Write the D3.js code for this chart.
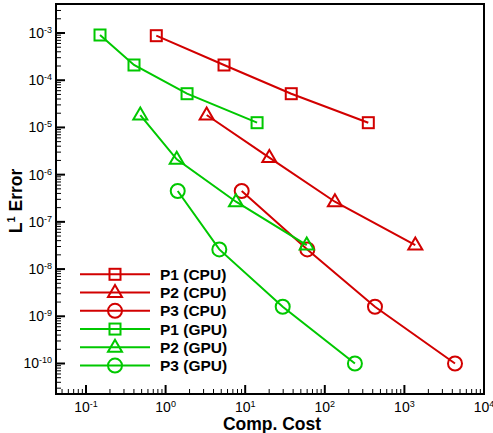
<!DOCTYPE html>
<html><head><meta charset="utf-8">
<script src="https://cdn.jsdelivr.net/npm/d3@7"></script>
<style>body{margin:0;background:#fff}svg{display:block}text{font-family:"Liberation Sans",Arial,sans-serif}</style>
</head><body><svg id="c" width="493" height="433"></svg>
<script>
const seriesNames = ["P1 (CPU)","P2 (CPU)","P3 (CPU)","P1 (GPU)","P2 (GPU)","P3 (GPU)"];
const p1cpuX = [0.764, 5.42, 37.9, 352];
const p1cpuY = [8.77e-4, 2.10e-4, 5.18e-5, 1.26e-5];
const p2cpuX = [3.28, 20.1, 134, 1371];
const p2cpuY = [1.83e-5, 2.30e-6, 2.67e-7, 3.22e-8];
const p3cpuX = [9.04, 60.3, 427, 4323];
const p3cpuY = [4.50e-7, 2.61e-8, 1.59e-9, 1.00e-10];
const p1gpuX = [0.150, 0.401, 1.86, 14.1];
const p1gpuY = [9.07e-4, 2.10e-4, 5.18e-5, 1.26e-5];
const p2gpuX = [0.481, 1.38, 7.66, 59.3];
const p2gpuY = [1.83e-5, 2.11e-6, 2.67e-7, 3.22e-8];
const p3gpuX = [1.42, 4.73, 29.6, 239];
const p3gpuY = [4.50e-7, 2.61e-8, 1.59e-9, 1.00e-10];
const xTickExps = [-1,0,1,2,3,4];
const yTickExps = [-3,-4,-5,-6,-7,-8,-9,-10];

const RED = "#d20000", GREEN = "#00c800";
const series = [
  {name:seriesNames[0], xs:p1cpuX, ys:p1cpuY, color:RED, sym:"square"},
  {name:seriesNames[1], xs:p2cpuX, ys:p2cpuY, color:RED, sym:"triangle"},
  {name:seriesNames[2], xs:p3cpuX, ys:p3cpuY, color:RED, sym:"circle"},
  {name:seriesNames[3], xs:p1gpuX, ys:p1gpuY, color:GREEN, sym:"square"},
  {name:seriesNames[4], xs:p2gpuX, ys:p2gpuY, color:GREEN, sym:"triangle"},
  {name:seriesNames[5], xs:p3gpuX, ys:p3gpuY, color:GREEN, sym:"circle"}
];

const L = 56, R = 484, T = 4, B = 394;
const x = d3.scaleLog().domain([Math.pow(10,-1 - 30/79.6), 1e4]).range([L, R]);
const y = d3.scaleLog().domain([Math.pow(10,-10 - 30.5/47.21), Math.pow(10,-3 + 29/47.21)]).range([B, T]);

const svg = d3.select("#c");

function minorVals(scale){
  const [a,b] = scale.domain();
  const lo = Math.min(a,b), hi = Math.max(a,b);
  const out = [];
  for (let e = Math.floor(Math.log10(lo)); e <= Math.ceil(Math.log10(hi)); e++) {
    for (let m = 1; m <= 9; m++) {
      const v = m*Math.pow(10,e);
      if (v >= lo*0.999 && v <= hi*1.001) out.push({v, major:m===1});
    }
  }
  return out;
}
const gT = svg.append("g");
minorVals(x).forEach(t => {
  const px = x(t.v);
  if (px < L+1 || px > R-1) return;
  gT.append("line").attr("x1",px).attr("x2",px).attr("y1",B).attr("y2",B-(t.major?9:5))
    .attr("stroke","#000").attr("stroke-width",t.major?2:1);
});
minorVals(y).forEach(t => {
  const py = y(t.v);
  if (py < T+1 || py > B-1) return;
  gT.append("line").attr("x1",L).attr("x2",L+(t.major?9:5)).attr("y1",py).attr("y2",py)
    .attr("stroke","#000").attr("stroke-width",t.major?2:1);
});

svg.append("rect").attr("x",L).attr("y",T).attr("width",R-L).attr("height",B-T)
  .attr("fill","none").attr("stroke","#000").attr("stroke-width",2);

xTickExps.forEach(e => {
  const t = svg.append("text").attr("x", x(Math.pow(10,e))).attr("y", 411.5)
    .attr("text-anchor","middle").attr("font-size",14).attr("fill","#000");
  t.append("tspan").text("10");
  t.append("tspan").attr("dy",-5).attr("font-size",9).text(String(e));
});
yTickExps.forEach(e => {
  const t = svg.append("text").attr("x", 52).attr("y", y(Math.pow(10,e))+5)
    .attr("text-anchor","end").attr("font-size",14).attr("fill","#000");
  t.append("tspan").text("10");
  t.append("tspan").attr("dy",-5).attr("font-size",9).text(String(e));
});

svg.append("text").attr("x",272).attr("y",430).attr("text-anchor","middle")
  .attr("font-size",17.5).attr("font-weight","bold").text("Comp. Cost");
const yt = svg.append("text").attr("transform","translate(22,201) rotate(-90)")
  .attr("text-anchor","middle").attr("font-size",17.5).attr("font-weight","bold");
yt.append("tspan").text("L");
yt.append("tspan").attr("dy",-7).attr("font-size",11).text("1");
yt.append("tspan").attr("dy",7).text(" Error");

function marker(g, sym, cx, cy, color){
  if (sym === "square") {
    g.append("rect").attr("x",cx-5.5).attr("y",cy-5.5).attr("width",11).attr("height",11)
      .attr("fill","none").attr("stroke",color).attr("stroke-width",2);
  } else if (sym === "triangle") {
    g.append("path").attr("d",`M${cx},${cy-7.5}L${cx+7},${cy+4.5}L${cx-7},${cy+4.5}Z`)
      .attr("fill","none").attr("stroke",color).attr("stroke-width",2);
  } else {
    g.append("circle").attr("cx",cx).attr("cy",cy).attr("r",7)
      .attr("fill","none").attr("stroke",color).attr("stroke-width",2);
  }
}

const line = d3.line().x(d => x(d[0])).y(d => y(d[1]));
series.forEach(s => {
  const pts = s.xs.map((v,i) => [v, s.ys[i]]);
  const g = svg.append("g");
  g.append("path").attr("d", line(pts)).attr("fill","none").attr("stroke",s.color).attr("stroke-width",2);
  pts.forEach(p => marker(g, s.sym, x(p[0]), y(p[1]), s.color));
});

const legY0 = 274.3, legDy = 18.25;
series.forEach((s,i) => {
  const yy = legY0 + i*legDy;
  const g = svg.append("g");
  g.append("line").attr("x1",80).attr("x2",150).attr("y1",yy).attr("y2",yy).attr("stroke",s.color).attr("stroke-width",2);
  marker(g, s.sym, 115, yy, s.color);
  g.append("text").attr("x",160).attr("y",yy+5.5).attr("font-size",15.5).attr("font-weight","bold").text(s.name);
});
</script></body></html>
